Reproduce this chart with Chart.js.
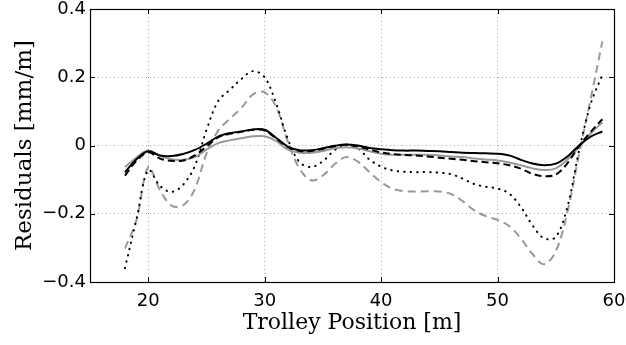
<!DOCTYPE html>
<html>
<head>
<meta charset="utf-8">
<script src="https://cdn.jsdelivr.net/npm/chart.js@4.4.1/dist/chart.umd.min.js"></script>
<style>
  html, body { margin: 0; padding: 0; background: #fff; }
</style>
</head>
<body>
<canvas id="residualChart" width="626" height="345"></canvas>
<script>
// trolley positions [m] at which the residuals are sampled
const positions = [18, 19, 20, 21, 22, 23, 24, 25, 26, 27, 28, 29, 30, 31, 32, 33, 34, 35, 36, 37, 38,
  39, 40, 41, 42, 43, 44, 45, 46, 47, 48, 49, 50, 51, 52, 53, 54, 55, 56, 57, 58, 59];

// residuals [mm/m]
const residualsBlack = [-0.078, -0.040, -0.017, -0.029, -0.031, -0.025, -0.013, 0.005, 0.026, 0.036, 0.041,
  0.047, 0.046, 0.022, -0.003, -0.014, -0.014, -0.008, -0.001, 0.003, 0.000, -0.007, -0.011, -0.014, -0.015,
  -0.015, -0.016, -0.017, -0.019, -0.021, -0.022, -0.023, -0.024, -0.029, -0.042, -0.053, -0.058, -0.053,
  -0.032, 0.000, 0.026, 0.041];
const residualsBlackDashed = [-0.088, -0.045, -0.020, -0.038, -0.045, -0.044, -0.029, -0.003, 0.024, 0.034,
  0.040, 0.046, 0.044, 0.020, -0.005, -0.016, -0.016, -0.010, -0.002, 0.002, -0.003, -0.012, -0.020, -0.025,
  -0.028, -0.029, -0.032, -0.036, -0.039, -0.042, -0.046, -0.049, -0.052, -0.058, -0.068, -0.083, -0.090,
  -0.085, -0.052, -0.002, 0.040, 0.077];
const residualsGrayDashed = [-0.302, -0.217, -0.063, -0.130, -0.176, -0.175, -0.128, -0.024, 0.043, 0.078,
  0.110, 0.150, 0.156, 0.112, 0.010, -0.068, -0.102, -0.088, -0.055, -0.034, -0.047, -0.078, -0.107, -0.127,
  -0.134, -0.135, -0.134, -0.135, -0.142, -0.163, -0.190, -0.207, -0.218, -0.236, -0.272, -0.318, -0.348,
  -0.310, -0.195, -0.025, 0.137, 0.305];
const residualsDotted = [-0.360, -0.215, -0.072, -0.118, -0.136, -0.115, -0.060, 0.045, 0.130, 0.163, 0.195,
  0.218, 0.200, 0.122, 0.018, -0.049, -0.063, -0.046, -0.014, 0.002, -0.008, -0.041, -0.062, -0.073, -0.077,
  -0.078, -0.078, -0.080, -0.084, -0.097, -0.113, -0.121, -0.126, -0.141, -0.180, -0.234, -0.272, -0.268,
  -0.180, -0.015, 0.122, 0.207];
const residualsGray = [-0.063, -0.035, -0.015, -0.030, -0.040, -0.042, -0.034, -0.012, 0.007, 0.015, 0.021,
  0.027, 0.027, 0.013, -0.012, -0.021, -0.021, -0.016, -0.008, -0.005, -0.009, -0.017, -0.024, -0.027, -0.027,
  -0.027, -0.027, -0.029, -0.032, -0.034, -0.038, -0.041, -0.044, -0.050, -0.058, -0.067, -0.072, -0.067,
  -0.041, -0.004, 0.035, 0.068];

const xTicks = [20, 30, 40, 50, 60];
const yTicks = [-0.4, -0.2, 0, 0.2, 0.4];

const toPoints = ys => positions.map((x, i) => ({ x: x, y: ys[i] }));

const tickFont = { family: 'DejaVu Sans', size: 18, lineHeight: 1 };

// box round the plot area with short inward tick marks, matlab style
const axesBox = {
  id: 'axesBox',
  afterDraw(chart) {
    const { ctx, chartArea: a, scales } = chart;
    ctx.save();
    ctx.strokeStyle = '#000';
    ctx.lineWidth = 1;
    ctx.beginPath();
    xTicks.forEach(v => {
      const px = Math.round(scales.x.getPixelForValue(v)) + 0.5;
      ctx.moveTo(px, a.bottom); ctx.lineTo(px, a.bottom - 5);
      ctx.moveTo(px, a.top); ctx.lineTo(px, a.top + 5);
    });
    yTicks.forEach(v => {
      const py = Math.round(scales.y.getPixelForValue(v)) + 0.5;
      ctx.moveTo(a.left, py); ctx.lineTo(a.left + 5, py);
      ctx.moveTo(a.right, py); ctx.lineTo(a.right - 5, py);
    });
    ctx.stroke();
    ctx.lineWidth = 1.2;
    ctx.strokeRect(a.left + 0.5, a.top + 0.5, a.right - a.left, a.bottom - a.top);
    ctx.restore();
  }
};

new Chart(document.getElementById('residualChart'), {
  type: 'line',
  data: {
    datasets: [
      { data: toPoints(residualsBlack), borderColor: '#000', borderWidth: 2 },
      { data: toPoints(residualsBlackDashed), borderColor: '#000', borderWidth: 2, borderDash: [7, 4] },
      { data: toPoints(residualsGray), borderColor: '#999', borderWidth: 2 },
      { data: toPoints(residualsDotted), borderColor: '#000', borderWidth: 2, borderDash: [0.5, 6], borderCapStyle: 'round' },
      { data: toPoints(residualsGrayDashed), borderColor: '#999', borderWidth: 2, borderDash: [8, 5] }
    ]
  },
  options: {
    responsive: false,
    animation: false,
    layout: { padding: { top: 9, right: 12, left: 0, bottom: 0 } },
    elements: {
      point: { radius: 0 },
      line: { tension: 0.35, fill: false }
    },
    plugins: { legend: { display: false }, tooltip: { enabled: false } },
    scales: {
      x: {
        type: 'linear',
        min: 15,
        max: 60,
        afterBuildTicks: s => { s.ticks = xTicks.map(v => ({ value: v })); },
        afterFit: s => { s.height = 63; s.paddingLeft = 0; s.paddingRight = 0; },
        grid: { color: '#aaa', drawTicks: false },
        border: { display: false, dash: [1, 3] },
        ticks: { font: tickFont, color: '#000', padding: 10, maxRotation: 0 },
        title: {
          display: true,
          text: 'Trolley Position [m]',
          color: '#000',
          font: { family: 'DejaVu Serif', size: 22 },
          padding: { top: 0, bottom: 9 }
        }
      },
      y: {
        min: -0.4,
        max: 0.4,
        afterBuildTicks: s => { s.ticks = yTicks.map(v => ({ value: v })); },
        afterFit: s => { s.width = 90; s.paddingTop = 0; s.paddingBottom = 0; },
        grid: { color: '#aaa', drawTicks: false },
        border: { display: false, dash: [1, 3] },
        ticks: {
          font: tickFont,
          color: '#000',
          padding: 4,
          callback: v => v === 0 ? '0' : (v < 0 ? '\u2212' : '') + Math.abs(v).toFixed(1)
        },
        title: {
          display: true,
          text: 'Residuals [mm/m]',
          color: '#000',
          font: { family: 'DejaVu Serif', size: 23 },
          padding: { top: 11, bottom: 0 }
        }
      }
    }
  },
  plugins: [axesBox]
});
</script>
</body>
</html>
